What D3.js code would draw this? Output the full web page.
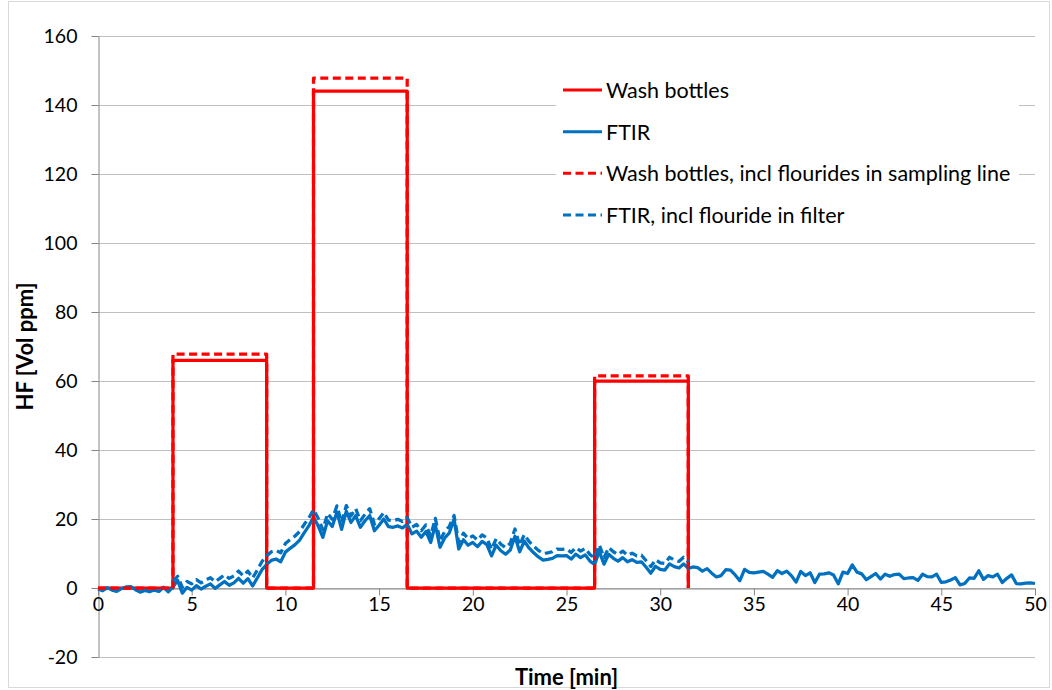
<!DOCTYPE html>
<html>
<head>
<meta charset="utf-8">
<script src="https://cdn.jsdelivr.net/npm/d3@7"></script>
<style>
  html, body { margin: 0; padding: 0; background: #fff; }
  svg { display: block; font-family: Lato, "Open Sans", sans-serif; }
</style>
</head>
<body>
<svg id="chart" width="1052" height="690"></svg>
<script>
// ---- data -------------------------------------------------------------
const xTicks = [0, 5, 10, 15, 20, 25, 30, 35, 40, 45, 50];
const yTicks = [-20, 0, 20, 40, 60, 80, 100, 120, 140, 160];

// FTIR logging interval in minutes; the FTIR series starts at t = 0
const sampleStep = 0.25;

// FTIR HF concentration [vol ppm], one value per sample
const ftir = [
  -0.3, -0.8, 0.1, -0.6, -1.0, -0.2, 0.3, 0.4, -0.5, -1.2, -0.7, -1.1, -0.6, -1.0, 0.2, -1.1, 0.3, 2.2, -1.5, 0.2,
  -0.6, 0.7, -0.3, 0.5, 1.2, -0.1, 0.9, 1.9, 0.8, 1.5, 2.8, 1.4, 2.7, 0.6, 2.9, 5.3, 6.8, 8.0, 8.4, 7.6,
  10.4, 11.5, 12.5, 13.8, 16.0, 18.0, 20.5, 18.0, 14.7, 19.5, 17.8, 22.0, 17.0, 22.3, 19.0, 21.0, 17.6, 19.5, 21.0, 16.6,
  18.2, 20.0, 17.8, 17.6, 18.0, 17.4, 18.5, 15.7, 16.5, 14.7, 16.4, 13.2, 18.3, 11.8, 14.5, 16.0, 20.0, 11.3, 14.0, 12.4,
  13.2, 12.0, 13.5, 12.6, 9.3, 12.4, 10.8, 9.8, 11.0, 15.0, 10.5, 13.6, 11.6, 10.2, 9.0, 8.1, 8.3, 8.6, 9.4, 9.3,
  9.4, 8.4, 9.8, 8.8, 9.6, 7.8, 6.8, 10.6, 6.9, 9.8, 8.6, 7.8, 8.8, 7.6, 8.2, 7.4, 7.6, 6.0, 4.3, 6.3,
  5.4, 5.2, 7.0, 6.2, 5.8, 7.0, 5.7, 6.1, 5.9, 4.9, 5.6, 4.3, 3.2, 3.6, 5.3, 5.2, 3.8, 2.1, 5.4, 4.5,
  4.4, 4.6, 4.8, 4.0, 3.1, 5.0, 4.2, 4.9, 3.6, 1.7, 4.8, 3.6, 4.4, 1.6, 4.0, 4.1, 4.4, 3.8, 1.2, 4.6,
  4.2, 6.7, 4.6, 4.1, 2.4, 3.3, 4.2, 2.6, 4.0, 3.4, 3.9, 4.0, 2.7, 2.9, 3.0, 2.2, 4.0, 3.3, 3.2, 4.0,
  1.6, 1.8, 2.3, 3.0, 0.9, 1.3, 2.9, 2.8, 5.0, 2.5, 3.6, 3.2, 4.0, 1.6, 2.8, 3.8, 1.3, 1.2, 1.4, 1.5,
  1.3
];

// FTIR including fluoride caught in the filter, from t = 4 min to 31.5 min
const ftirFilterStart = 4;
const ftirFilter = [
  2.0, 3.4, 0.2, 1.9, 1.2, 2.4, 1.5, 2.3, 3.0, 1.8, 2.8, 3.8, 2.8, 3.5, 4.9, 3.5, 4.9, 2.9, 5.2, 7.7,
  9.3, 10.5, 10.9, 10.2, 12.9, 14.0, 15.0, 16.3, 18.4, 20.3, 22.7, 20.2, 16.9, 21.6, 19.9, 23.8, 19.0, 23.9, 20.9, 23.0,
  19.5, 21.4, 23.0, 18.5, 20.1, 21.9, 19.7, 19.5, 19.9, 19.3, 20.4, 17.6, 18.4, 16.6, 18.3, 15.1, 20.2, 13.7, 16.4, 17.9,
  21.0, 13.2, 15.9, 14.3, 15.1, 13.9, 15.4, 14.5, 11.2, 14.3, 12.7, 11.7, 13.0, 17.1, 12.4, 15.5, 13.5, 12.1, 10.9, 10.0,
  10.2, 10.5, 11.3, 11.2, 11.3, 10.3, 11.7, 10.7, 11.5, 9.7, 8.7, 12.5, 8.8, 11.7, 10.5, 9.7, 10.7, 9.5, 10.1, 9.3,
  9.5, 7.9, 6.2, 8.2, 7.3, 7.1, 8.9, 8.1, 7.7, 8.9, 7.6
];

// Wash bottle sampling periods [min] and the mean HF found in each
const periodStart = [4, 11.5, 26.5];
const periodEnd = [9, 16.5, 31.5];
const washBottles = [66, 144, 60];
const washBottlesLine = [67.8, 147.8, 61.5];

const seriesNames = [
  "Wash bottles",
  "FTIR",
  "Wash bottles, incl flourides in sampling line",
  "FTIR, incl flouride in filter"
];

// ---- layout -----------------------------------------------------------
const plot = { left: 98, right: 1035, top: 36, bottom: 657 };
const RED = "#ff0000", BLUE = "#0070c0";
const AXIS = "#868686", GRID = "#c0c0c0";
const DASH = "8,4.5";

const svg = d3.select("#chart");

const x = d3.scaleLinear().domain([0, 50]).range([plot.left, plot.right]);
const y = d3.scaleLinear().domain([-20, 160]).range([plot.bottom, plot.top]);

// chart frame
svg.append("rect")
  .attr("x", 8.5).attr("y", 1.5)
  .attr("width", 1041).attr("height", 686)
  .attr("fill", "#fff").attr("stroke", "#d9d9d9").attr("stroke-width", 1);

// horizontal gridlines
svg.append("g").selectAll("line")
  .data(yTicks)
  .join("line")
  .attr("x1", plot.left).attr("x2", plot.right)
  .attr("y1", d => Math.round(y(d)) + 0.5).attr("y2", d => Math.round(y(d)) + 0.5)
  .attr("stroke", GRID).attr("stroke-width", 1);

// y axis
const yAxis = svg.append("g")
  .attr("transform", `translate(${plot.left + 0.5},0)`)
  .call(d3.axisLeft(y).tickValues(yTicks).tickFormat(d => String(d))
    .tickSize(7).tickSizeOuter(0).tickPadding(14));

// x axis sits on the zero line
const xAxis = svg.append("g")
  .attr("transform", `translate(0,${Math.round(y(0)) + 0.5})`)
  .call(d3.axisBottom(x).tickValues(xTicks).tickFormat(d => String(d))
    .tickSize(7).tickSizeOuter(0).tickPadding(2));

[yAxis, xAxis].forEach(g => {
  g.select(".domain").attr("stroke", AXIS);
  g.selectAll(".tick line").attr("stroke", AXIS);
  g.selectAll(".tick text")
    .attr("fill", "#000")
    .style("font-size", "19.5px")
    .style("font-family", "Lato, 'Open Sans', sans-serif");
});

// axis titles
svg.append("text")
  .attr("transform", `translate(24,${(plot.top + plot.bottom) / 2}) rotate(-90)`)
  .attr("text-anchor", "middle").attr("dominant-baseline", "central")
  .style("font-size", "22px").style("font-weight", "bold")
  .text("HF [Vol ppm]");

svg.append("text")
  .attr("x", (plot.left + plot.right) / 2).attr("y", 676)
  .attr("text-anchor", "middle").attr("dominant-baseline", "central")
  .style("font-size", "22px").style("font-weight", "bold")
  .text("Time [min]");

// ---- series -----------------------------------------------------------
function stepPoints(levels) {
  const pts = [[0, 0]];
  levels.forEach((v, i) => {
    pts.push([periodStart[i], 0], [periodStart[i], v], [periodEnd[i], v], [periodEnd[i], 0]);
  });
  return pts;
}

const line = d3.line().x(d => x(d[0])).y(d => y(d[1]));

const ftirPts = ftir.map((v, i) => [i * sampleStep, v]);
const ftirFilterPts = ftirFilter.map((v, i) => [ftirFilterStart + i * sampleStep, v]);

const series = [
  { pts: stepPoints(washBottles), color: RED, dash: null, width: 3.25 },
  { pts: ftirPts, color: BLUE, dash: null, width: 3.25 },
  { pts: stepPoints(washBottlesLine), color: RED, dash: DASH, width: 3.25 },
  { pts: ftirFilterPts, color: BLUE, dash: DASH, width: 3.25 }
];

svg.append("g").selectAll("path")
  .data(series)
  .join("path")
  .attr("d", d => line(d.pts))
  .attr("fill", "none")
  .attr("stroke", d => d.color)
  .attr("stroke-width", d => d.width)
  .attr("stroke-linejoin", "round")
  .attr("stroke-dasharray", d => d.dash);

// ---- legend -----------------------------------------------------------
const legend = svg.append("g");
legend.append("rect")
  .attr("x", 556).attr("y", 68).attr("width", 463).attr("height", 168)
  .attr("fill", "#fff");

const rowY = d3.scalePoint().domain(seriesNames).range([90, 215]);

const items = legend.selectAll("g.item")
  .data(series.map((s, i) => ({ ...s, name: seriesNames[i] })))
  .join("g").attr("class", "item")
  .attr("transform", d => `translate(0,${rowY(d.name)})`);

items.append("line")
  .attr("x1", 563).attr("x2", 602)
  .attr("stroke", d => d.color).attr("stroke-width", 3)
  .attr("stroke-dasharray", d => d.dash);

items.append("text")
  .attr("x", 606).attr("dominant-baseline", "central")
  .style("font-size", "21.5px")
  .text(d => d.name);
</script>
</body>
</html>
